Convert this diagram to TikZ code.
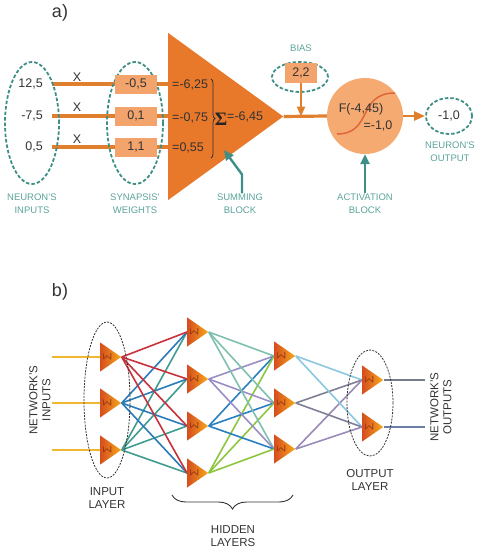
\documentclass[tikz,border=0pt]{standalone}
\usepackage{fontspec}
\setmainfont{Liberation Sans}
\newfontfamily\serifbold{Liberation Serif}
\usetikzlibrary{shapes.geometric,arrows.meta,decorations.pathreplacing,calc,backgrounds}
\definecolor{orD}{HTML}{E8782A}
\definecolor{orL}{HTML}{F3A46C}
\definecolor{orC}{HTML}{F5AA72}
\definecolor{orLine}{HTML}{E07F2E}
\definecolor{sigc}{HTML}{E0663A}
\definecolor{teal}{HTML}{3F8F86}
\definecolor{tealL}{HTML}{5BA39B}
\definecolor{dk}{HTML}{333333}
\definecolor{nL}{HTML}{D64E1E}
\definecolor{nR}{HTML}{F6A81C}
\definecolor{sigN}{HTML}{9B3A12}
\definecolor{cRed}{HTML}{C8323C}
\definecolor{cBlue}{HTML}{2B7BB9}
\definecolor{cTeal}{HTML}{3F9C8E}
\definecolor{cLTeal}{HTML}{7FC0B0}
\definecolor{cLav}{HTML}{9B8EC4}
\definecolor{cBlue2}{HTML}{2A7FC0}
\definecolor{cGreen}{HTML}{8CC63F}
\definecolor{cLBlue}{HTML}{8CC7E0}
\definecolor{cGray}{HTML}{7F8095}
\definecolor{cPurp}{HTML}{9A8AB8}
\definecolor{cYel}{HTML}{F0B830}
\definecolor{cOut1}{HTML}{777C8A}
\definecolor{cOut2}{HTML}{6B7FA8}
\begin{document}
\begin{tikzpicture}[x=1pt,y=-1pt,
  txt/.style={text=dk,font=\fontsize{12.5}{14}\selectfont,inner sep=0pt},
  lbl/.style={text=tealL,font=\fontsize{9.5}{13}\selectfont,align=center,inner sep=0pt},
  blbl/.style={text=dk,font=\fontsize{11.5}{13}\selectfont,align=center,inner sep=0pt},
  tdash/.style={draw=teal,line width=1.8pt,dash pattern=on 3.5pt off 2pt,ellipse,inner sep=0pt},
  kdash/.style={draw=dk,line width=0.8pt,dash pattern=on 2pt off 1.2pt,ellipse,inner sep=0pt},
  wbox/.style={fill=orL,minimum width=42pt,minimum height=19pt,inner sep=0pt,text=dk,font=\fontsize{12.5}{14}\selectfont},
  oline/.style={draw=orLine,line width=3.2pt},
  tarrow/.style={draw=teal,line width=2.4pt,-{Triangle[width=9pt,length=10pt]}},
  neuron/.style={isosceles triangle,isosceles triangle stretches,shape border rotate=0,
     minimum width=29pt,minimum height=21pt,inner sep=0pt,left color=nL,right color=nR,anchor=lower side},
  sig/.style={text=sigN,font=\fontsize{12}{12}\selectfont,rotate=90,inner sep=0pt},
  conn/.style={line width=1.6pt}
]
\useasboundingbox (0,0) rectangle (480,552);

% ---------- a) ----------
\node[text=dk,font=\fontsize{18}{20}\selectfont,inner sep=0pt] (la) at (60,13) {a)};

\node[tdash,minimum width=54pt,minimum height=122pt] (ein) at (32,123) {};
\node[tdash,minimum width=56pt,minimum height=122pt] (ew) at (135,123) {};

\node[isosceles triangle,isosceles triangle stretches,shape border rotate=0,
  minimum width=167pt,minimum height=115pt,inner sep=0pt,fill=orD,anchor=lower side] (sum) at (168,116.5) {};

\node[txt,anchor=east] (x1) at (43,84) {12,5};
\node[txt,anchor=east] (x2) at (43,116) {-7,5};
\node[txt,anchor=east] (x3) at (43,147) {0,5};

\node[wbox] (w1) at (136,84) {-0,5};
\node[wbox] (w2) at (136,116) {0,1};
\node[wbox] (w3) at (136,147) {1,1};

\begin{pgfonlayer}{background}
\draw[oline,shorten <=9pt] (x1.east) -- (w1.west);
\draw[oline,shorten <=9pt] (x2.east) -- (w2.west);
\draw[oline,shorten <=9pt] (x3.east) -- (w3.west);
\draw[oline] (w1.east) -- (w1.east -| sum.lower side);
\draw[oline] (w2.east) -- (w2.east -| sum.lower side);
\draw[oline] (w3.east) -- (w3.east -| sum.lower side);
\end{pgfonlayer}

\node[txt] (m1) at (77,77) {X};
\node[txt] (m2) at (77,107) {X};
\node[txt] (m3) at (77,139) {X};

\node[txt,anchor=west] (p1) at (172,85) {=-6,25};
\node[txt,anchor=west] (p2) at (172,118) {=-0,75};
\node[txt,anchor=west] (p3) at (172,148) {=0,55};
\draw[dk,line width=0.8pt,decorate,decoration={brace,amplitude=4pt}] (211,79) -- (211,158);
\node[text=black!85,font=\serifbold\bfseries\fontsize{19}{19}\selectfont,inner sep=0pt] (sg) at (221,119) {Σ};
\node[txt,anchor=west] (ps) at (227,117) {=-6,45};

\node[lbl] (lin) at (32,203.5) {NEURON'S\\INPUTS};
\node[lbl] (lw) at (135,203.5) {SYNAPSIS'\\WEIGHTS};
\node[lbl] (lsum) at (240,203.5) {SUMMING\\BLOCK};
\coordinate (sumtip) at (224,150);
\draw[tarrow] ([xshift=2pt]lsum.north) -- ++(0,-19) -- (sumtip);

% bias
\node[text=tealL,font=\fontsize{9.5}{11}\selectfont,inner sep=0pt] (lbias) at (301,48) {BIAS};
\node[tdash,minimum width=56pt,minimum height=30pt] (eb) at (300,77) {};
\node[wbox,minimum width=32pt,minimum height=20pt] (bb) at (301,73) {2,2};

% activation
\node[circle,fill=orC,minimum size=76pt,inner sep=0pt] (act) at (365,116) {};
\draw[oline] (sum.apex) -- (act.west);
\draw[oline,line width=2.4pt,-{Triangle[width=8pt,length=10pt]}] (bb.south) -- (bb.south |- sum.apex);
\draw[sigc,line width=1.5pt] (337,134) .. controls (373,134) and (357,93) .. (395,93);
\node[txt] (f1) at (361,109) {F(-4,45)};
\node[txt] (f2) at (378,126) {=-1,0};
\node[lbl] (lact) at (365,203.5) {ACTIVATION\\BLOCK};
\draw[tarrow] (lact.north) -- (act.south);

% output
\node[tdash,minimum width=46pt,minimum height=36pt,text=dk,font=\fontsize{12.5}{14}\selectfont] (ov) at (449,116) {-1,0};
\draw[oline,line width=2.6pt,-{Triangle[width=9pt,length=11pt]}] (act.east) -- (ov.west);
\node[lbl] (lout) at (450,152) {NEURON'S\\OUTPUT};

% ---------- b) ----------
\node[text=dk,font=\fontsize{18}{20}\selectfont,inner sep=0pt] (lb) at (60,292) {b)};

\node[kdash,minimum width=46pt,minimum height=156pt] (eIn) at (107,400) {};
\node[kdash,minimum width=46pt,minimum height=106pt] (eOut) at (370,403) {};

\node[neuron] (i1) at (100,357) {};
\node[neuron] (i2) at (100,403) {};
\node[neuron] (i3) at (100,450) {};

\node[neuron] (h1) at (187,332) {};
\node[neuron] (h2) at (187,379) {};
\node[neuron] (h3) at (187,426) {};
\node[neuron] (h4) at (187,473) {};

\node[neuron] (g1) at (274,356) {};
\node[neuron] (g2) at (274,403) {};
\node[neuron] (g3) at (274,449) {};

\node[neuron] (o1) at (362,380) {};
\node[neuron] (o2) at (362,427) {};

\foreach \n in {i1,i2,i3,h1,h2,h3,h4,g1,g2,g3,o1,o2}
  \node[sig] (s\n) at ($(\n.lower side)!0.33!(\n.apex)$) {Σ};

\coordinate (inA) at (52,357);
\coordinate (inB) at (52,403);
\coordinate (inC) at (52,450);
\coordinate (outA) at (425,380);
\coordinate (outB) at (425,427);

\begin{pgfonlayer}{background}
\draw[conn,cYel] (inA) -- (i1.lower side);
\draw[conn,cYel] (inB) -- (i2.lower side);
\draw[conn,cYel] (inC) -- (i3.lower side);
\foreach \h in {h1,h2,h3,h4}{
  \draw[conn,cTeal] (i3.apex) -- (\h.lower side);
  \draw[conn,cBlue] (i2.apex) -- (\h.lower side);
  \draw[conn,cRed] (i1.apex) -- (\h.lower side);
}
\foreach \g in {g1,g2,g3}{
  \draw[conn,cLTeal] (h1.apex) -- (\g.lower side);
  \draw[conn,cLav] (h2.apex) -- (\g.lower side);
  \draw[conn,cBlue2] (h3.apex) -- (\g.lower side);
  \draw[conn,cGreen] (h4.apex) -- (\g.lower side);
}
\foreach \o in {o1,o2}{
  \draw[conn,cLBlue] (g1.apex) -- (\o.lower side);
  \draw[conn,cGray] (g2.apex) -- (\o.lower side);
  \draw[conn,cPurp] (g3.apex) -- (\o.lower side);
}
\draw[conn,cOut1] (o1.apex) -- (outA);
\draw[conn,cOut2] (o2.apex) -- (outB);
\end{pgfonlayer}

\node[blbl,rotate=90] (lnin) at (40,400) {NETWORK'S\\INPUTS};
\node[blbl,rotate=90] (lnout) at (441,407) {NETWORK'S\\OUTPUTS};
\node[blbl] (lil) at (107,498.5) {INPUT\\LAYER};
\node[blbl] (lol) at (370,480) {OUTPUT\\LAYER};
\node[blbl] (lhl) at (233,536.5) {HIDDEN\\LAYERS};
\draw[dk,line width=0.9pt,decorate,decoration={brace,amplitude=14pt}] (293,495) -- (172,495);
\end{tikzpicture}
\end{document}
